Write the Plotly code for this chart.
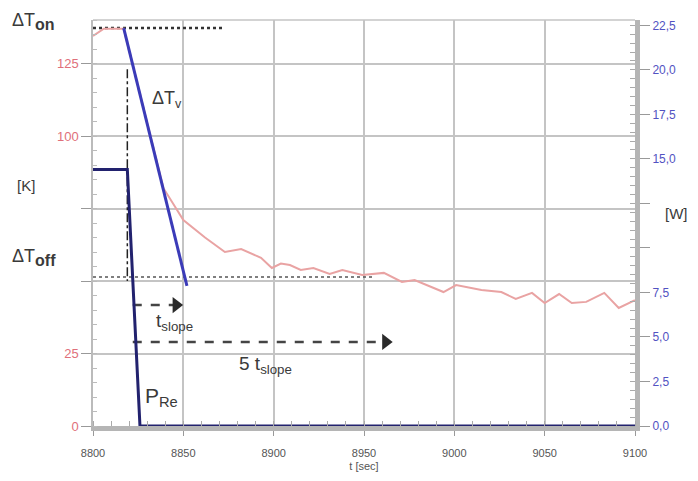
import plotly.graph_objects as go

# ---- data ----
t_red = [8800, 8806, 8817, 8839, 8850, 8862, 8873, 8882, 8893, 8899, 8904, 8909, 8915, 8922,
         8931, 8938, 8949, 8961, 8971, 8978, 8994, 9001, 9015, 9026, 9034, 9043, 9050, 9058,
         9065, 9073, 9083, 9091, 9100]
dT_red = [134.5, 137, 137, 82, 71, 65, 60, 61, 58, 54.5, 56, 55.5, 53.8, 54.5,
          52.4, 53.8, 52.1, 52.8, 49.7, 50.3, 46.2, 48.6, 46.9, 46.2, 43.8, 45.9, 42.4, 45.5,
          42.4, 42.8, 45.9, 40.7, 43.4]

t_v = [8817, 8852]
dT_v = [137.2, 48.3]

t_p = [8800, 8819, 8826, 9100]
p_re = [14.4, 14.4, 0, 0]

dT_on = 137.2
dT_off = 51.4
t_on_line = [8800, 8873]
t_off_line = [8800, 8955]
t_switch = 8819
switch_span = [123, 50]

t_slope_arrow = [8822, 8849]
t_slope_level = 41.7
t5_arrow = [8822, 8965]
t5_level = 29

x_ticks = [8800, 8850, 8900, 8950, 9000, 9050, 9100]
k_ticks = [0, 25, 50, 75, 100, 125]
k_text = ["0", "25", "", "", "100", "125"]
w_ticks = [0, 2.5, 5, 7.5, 10, 12.5, 15, 17.5, 20, 22.5]
w_text = ["0,0", "2,5", "5,0", "7,5", "", "", "15,0", "17,5", "20,0", "22,5"]

FONT = "Liberation Sans"
TXT = "#3a3a3a"

fig = go.Figure()

# dotted reference lines
fig.add_trace(go.Scatter(x=t_on_line, y=[dT_on, dT_on], mode="lines",
                         line=dict(color="#333", width=2.5, dash="dot"), hoverinfo="skip"))
fig.add_trace(go.Scatter(x=t_off_line, y=[dT_off, dT_off], mode="lines",
                         line=dict(color="#555", width=1.5, dash="dot"), hoverinfo="skip"))
fig.add_trace(go.Scatter(x=[t_switch, t_switch], y=switch_span, mode="lines",
                         line=dict(color="#222", width=1.5, dash="dashdot"), hoverinfo="skip"))

# measured temperature
fig.add_trace(go.Scatter(x=t_red, y=dT_red, mode="lines",
                         line=dict(color="#e9a3a3", width=2)))
# slope line
fig.add_trace(go.Scatter(x=t_v, y=dT_v, mode="lines",
                         line=dict(color="#3b3bb8", width=3)))
# power
fig.add_trace(go.Scatter(x=t_p, y=p_re, mode="lines", yaxis="y2",
                         line=dict(color="#22226e", width=3)))

# dashed arrows
for xs, lvl in [(t_slope_arrow, t_slope_level), (t5_arrow, t5_level)]:
    fig.add_trace(go.Scatter(x=[xs[0], xs[1] - 4], y=[lvl, lvl], mode="lines",
                             line=dict(color="#444", width=2.5, dash="dash")))
    fig.add_trace(go.Scatter(x=[xs[1] - 3], y=[lvl], mode="markers",
                             marker=dict(symbol="triangle-right", size=14, color="#2a2a2a")))

fig.update_layout(
    width=698, height=481,
    margin=dict(l=93, r=63, t=20, b=55),
    paper_bgcolor="white", plot_bgcolor="white",
    showlegend=False,
    font=dict(family=FONT, color=TXT),
    xaxis=dict(range=[8800, 9100], tickvals=x_ticks, showgrid=True, automargin=False,
               gridcolor="#c4c4c4", gridwidth=1.5, zeroline=False,
               showline=True, linecolor="#b5b5b5", linewidth=5,
               ticks="outside", ticklen=5, tickcolor="#999",
               ticklabelstandoff=8,
               minor=dict(dtick=10, ticks="inside", ticklen=5, tickcolor="#aaa", showgrid=False),
               tickfont=dict(size=11, color="#555"),
               title=dict(text="t [sec]", font=dict(size=11, color="#555"), standoff=6)),
    yaxis=dict(range=[0, 140], tickvals=k_ticks, ticktext=k_text, showgrid=True, automargin=False,
               gridcolor="#c4c4c4", gridwidth=1.5, zeroline=False,
               showline=True, linecolor="#bbb", linewidth=1.5,
               ticks="outside", ticklen=10, tickcolor="#999",
               minor=dict(dtick=5, ticks="inside", ticklen=4, tickcolor="#bbb", showgrid=False),
               tickfont=dict(size=13, color="#e0707a")),
    yaxis2=dict(range=[0, 22.8], overlaying="y", side="right", tickvals=w_ticks, ticktext=w_text,
                showgrid=False, zeroline=False, automargin=False,
                showline=True, linecolor="#b5b5b5", linewidth=5,
                ticks="outside", ticklen=10, tickcolor="#999",
                minor=dict(dtick=0.5, ticks="inside", ticklen=5, tickcolor="#aaa"),
                tickfont=dict(size=12, color="#5252c2")),
)

# top border
fig.add_shape(type="line", xref="paper", yref="paper", x0=0, x1=1, y0=1, y1=1,
              line=dict(color="#c4c4c4", width=1.5))

def ann(text, x, y, size, xanchor="left"):
    fig.add_annotation(text=text, x=x, y=y, xref="paper", yref="paper", showarrow=False,
                       xanchor=xanchor, yanchor="middle",
                       font=dict(family=FONT, size=size, color=TXT))

W = 698 - 93 - 63
H = 481 - 20 - 55
def px(xp):
    return (xp - 93) / W
def py(yp):
    return (20 + H - yp) / H

ann("ΔT<sub><span style='font-size:16px'><b>on</b></span></sub>", px(10), py(22), 18)
ann("ΔT<sub><span style='font-size:16px'><b>off</b></span></sub>", px(10), py(257), 18)
ann("[K]", px(15), py(185), 15)
ann("[W]", px(663), py(213), 15)
ann("ΔT<sub>v</sub>", px(150), py(100), 18)
ann("t<sub>slope</sub>", px(154), py(322), 19)
ann("5 t<sub>slope</sub>", px(237), py(365), 19)
ann("P<sub>Re</sub>", px(143), py(397), 21)

fig.write_html("out.html")
